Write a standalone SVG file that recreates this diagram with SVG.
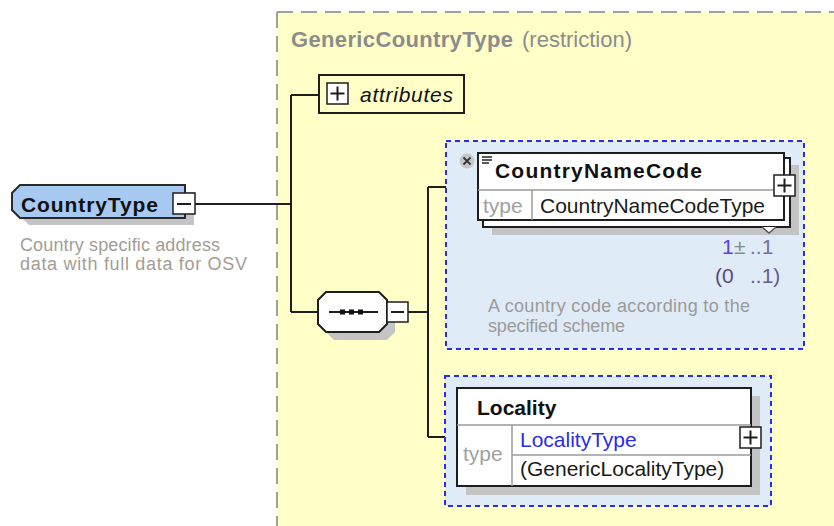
<svg xmlns="http://www.w3.org/2000/svg" width="834" height="526" viewBox="0 0 834 526">
<style>
text{font-family:"Liberation Sans",Arial,sans-serif}
.con{stroke:#1e1e1e;stroke-width:2;fill:none}
.box{fill:#fff;stroke:#1e1e1e;stroke-width:2}
.shadow{fill:#c4c4c4}
.grp{fill:#e0ebf8;stroke:#2a2af0;stroke-width:2;stroke-dasharray:5,4}
.div{stroke:#9a9a9a;stroke-width:1.5}
.btn{fill:#fff;stroke:#1e1e1e;stroke-width:1.5}
.sign{stroke:#1e1e1e;stroke-width:2}
.name{font-size:21px;font-weight:bold;fill:#111}
.lbl{font-size:21px;fill:#1a1a1a}
.link{font-size:21px;fill:#2b2bec}
.type{font-size:21px;fill:#a0a0a0}
.desc{font-size:18px;fill:#a39d94}
.desc2{font-size:18px;fill:#9c9a98}
</style>
<rect x="277" y="12" width="557" height="514" fill="#ffffc8"/>
<path d="M277 12H834M277 12V526" stroke="#a0a0a0" stroke-width="2" stroke-dasharray="16,8" fill="none"/>
<text x="291" y="47" font-size="22" fill="#8c8c8c"><tspan font-weight="bold" textLength="222">GenericCountryType</tspan><tspan x="522">(restriction)</tspan></text>

<g id="connectors">
<path class="con" d="M195 204H291M291 95V312M291 95H319M291 312H318M408 312H428M428 187V437M428 187H478M428 437H457"/>
</g>

<g id="CountryType">
<polygon class="shadow" points="29,192 194,192 194,225 29,225 21,217 21,200"/>
<polygon points="20,185 185,185 185,218 20,218 12,210 12,193" fill="#a7c9f2" stroke="#2a2a2a" stroke-width="2"/>
<text class="name" x="21" y="212" textLength="137">CountryType</text>
<rect class="btn" x="173" y="193" width="22" height="21"/>
<line class="sign" x1="177" y1="204" x2="191" y2="204"/>
<text class="desc" x="20" y="251" textLength="200">Country specific address</text>
<text class="desc" x="20" y="270" textLength="227">data with full data for OSV</text>
</g>

<g id="attributes">
<rect x="319" y="75" width="145" height="38" fill="none" stroke="#1e1e1e" stroke-width="2"/>
<rect class="btn" x="327" y="83" width="21" height="21"/>
<path class="sign" d="M330.5 93.5H344.5M337.5 86.5V100.5"/>
<text x="360" y="102" font-size="21" font-style="italic" fill="#111" textLength="93">attributes</text>
</g>

<g id="sequence">
<polygon class="shadow" points="334,300 387,300 395,308 395,332 387,340 334,340 326,332 326,308"/>
<polygon points="326,292 379,292 387,300 387,324 379,332 326,332 318,324 318,300" fill="#fff" stroke="#1e1e1e" stroke-width="2"/>
<line x1="329" y1="312" x2="378" y2="312" stroke="#1e1e1e" stroke-width="2"/>
<rect x="340" y="309.5" width="5" height="5" fill="#111"/>
<rect x="349" y="309.5" width="5" height="5" fill="#111"/>
<rect x="358" y="309.5" width="5" height="5" fill="#111"/>
<rect class="btn" x="387" y="302" width="21" height="20"/>
<line class="sign" x1="391" y1="312" x2="404" y2="312"/>
</g>

<g id="CountryNameCode">
<rect class="grp" x="446" y="141" width="358" height="208"/>
<rect class="shadow" x="492" y="165" width="307" height="70"/>
<rect class="box" x="483" y="158" width="307" height="69"/>
<rect class="box" x="478" y="153" width="306" height="67"/>
<polyline points="762,227 769,233 776,227" fill="#fff" stroke="#555" stroke-width="1.5"/>
<line class="div" x1="478" y1="190" x2="784" y2="190"/>
<line class="div" x1="532" y1="190" x2="532" y2="220"/>
<circle cx="467" cy="161" r="7.5" fill="#c6c6c6"/>
<path d="M463.5 157.5L470.5 164.5M470.5 157.5L463.5 164.5" stroke="#333" stroke-width="1.8"/>
<path d="M482 157H492M482 160H492M482 163H489" stroke="#222" stroke-width="1.5"/>
<text class="name" x="495" y="178" textLength="207">CountryNameCode</text>
<text class="type" x="483" y="213">type</text>
<text class="lbl" x="540" y="213" textLength="225">CountryNameCodeType</text>
<rect class="btn" x="774" y="175" width="21" height="21"/>
<path class="sign" d="M777.5 185.5H791.5M784.5 178.5V192.5"/>
<text x="722" y="254" font-size="21" fill="#5544dd">1</text>
<text x="734" y="254" font-size="21" fill="#8a8a8a">±</text>
<text x="750" y="254" font-size="21" fill="#7b6ba0">..1</text>
<text x="715" y="283" font-size="21" fill="#5a4a7a">(0</text>
<text x="750" y="283" font-size="21" fill="#6a5a90">..1)</text>
<text class="desc2" x="488" y="312" textLength="262">A country code according to the</text>
<text class="desc2" x="488" y="332" textLength="137">specified scheme</text>
</g>

<g id="Locality">
<rect class="grp" x="445" y="376" width="326" height="130"/>
<rect class="shadow" x="466" y="396" width="294" height="99"/>
<rect class="box" x="457" y="388" width="294" height="98"/>
<line class="div" x1="457" y1="425" x2="751" y2="425"/>
<line class="div" x1="512" y1="425" x2="512" y2="486"/>
<line class="div" x1="512" y1="455" x2="751" y2="455"/>
<text class="name" x="477" y="415">Locality</text>
<text class="type" x="463" y="461">type</text>
<text class="link" x="520" y="447">LocalityType</text>
<text class="lbl" x="520" y="476">(GenericLocalityType)</text>
<rect class="btn" x="740" y="427" width="21" height="21"/>
<path class="sign" d="M743.5 437.5H757.5M750.5 430.5V444.5"/>
</g>
</svg>
